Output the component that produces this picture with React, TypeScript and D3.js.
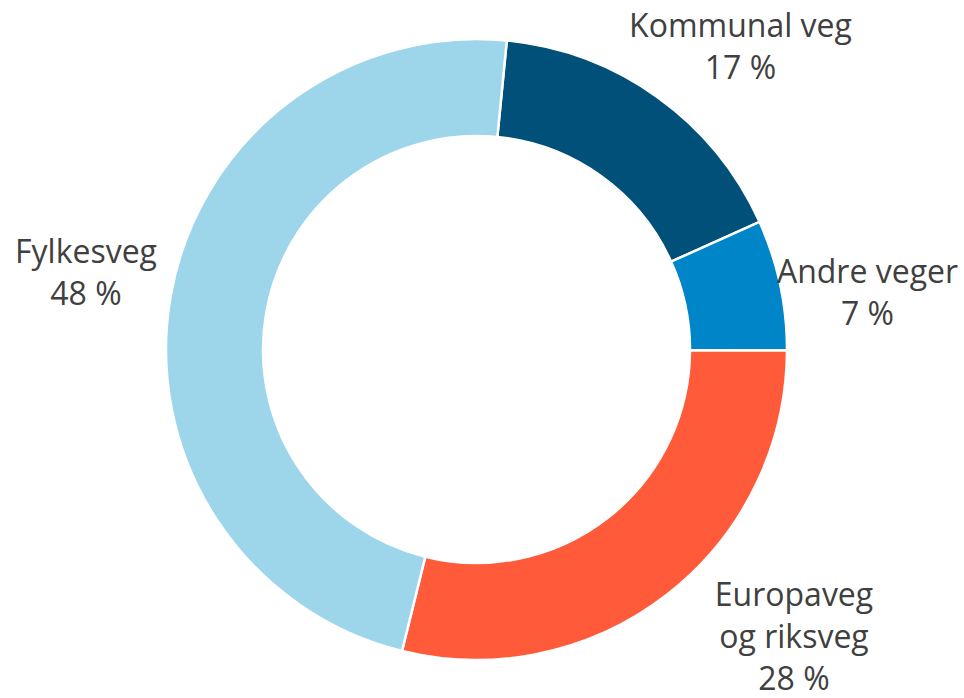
import React from "react";
import * as d3 from "d3";

// Data
const categories = ["Kommunal veg", "Andre veger", "Europaveg og riksveg", "Fylkesveg"];
const labelLines = [["Kommunal veg"], ["Andre veger"], ["Europaveg", "og riksveg"], ["Fylkesveg"]];
const shares = [16.7, 6.8, 28.8, 47.7];
const percentLabels = ["17 %", "7 %", "28 %", "48 %"];

// Layout / style (not data)
const W = 964;
const H = 698;
const CX = 476.5;
const CY = 349.5;
const R_OUT = 310.5;
const R_IN = 213.5;
const START_DEG = 5.6;
const colors = ["#00507A", "#0085C8", "#FF5A3A", "#9DD5EA"];
// label anchor: [centerX, first baseline]
const labelAnchors: [number, number][] = [
  [740.5, 37],
  [867.5, 283],
  [794, 606],
  [86, 263],
];
const LINE_H = 42;
const FONT = "'Open Sans', Lato, sans-serif";

export default function App() {
  const pie = d3
    .pie<number>()
    .sort(null)
    .value((d) => d)
    .startAngle((START_DEG * Math.PI) / 180)
    .endAngle((START_DEG * Math.PI) / 180 + 2 * Math.PI);
  const arcs = pie(shares);
  const arcGen = d3.arc<d3.PieArcDatum<number>>().innerRadius(R_IN).outerRadius(R_OUT);

  return (
    <svg width={W} height={H} style={{ position: "absolute", left: 0, top: 0, background: "#fff" }}>
      <g transform={`translate(${CX},${CY})`}>
        {arcs.map((a, i) => (
          <path key={categories[i]} d={arcGen(a) || ""} fill={colors[i]} stroke="#fff" strokeWidth={2.5} />
        ))}
      </g>
      {categories.map((c, i) => {
        const [x, y] = labelAnchors[i];
        const lines = [...labelLines[i], percentLabels[i]];
        return (
          <text key={c} x={x} y={y} textAnchor="middle" fontFamily={FONT} fontSize={32} fill="#404040">
            {lines.map((l, j) => (
              <tspan key={j} x={x} y={y + j * LINE_H}>
                {l}
              </tspan>
            ))}
          </text>
        );
      })}
    </svg>
  );
}
